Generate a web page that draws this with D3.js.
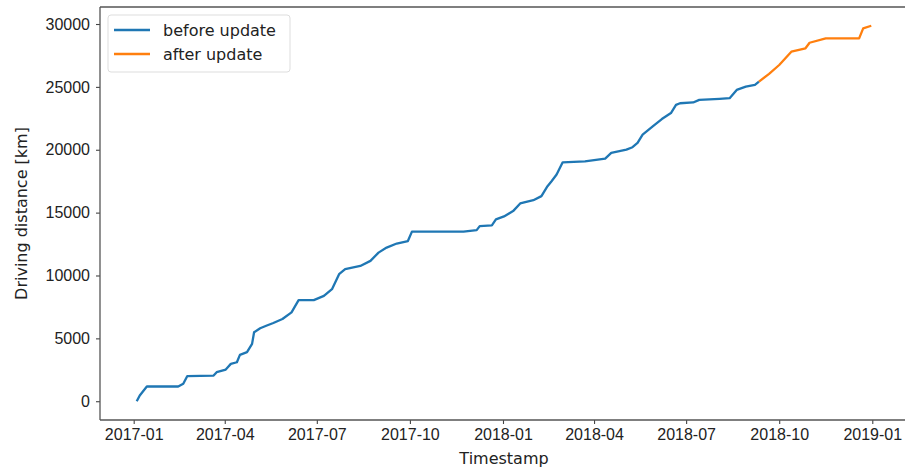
<!DOCTYPE html>
<html>
<head>
<meta charset="utf-8">
<script src="https://cdn.jsdelivr.net/npm/d3@7"></script>
<style>
  body { margin: 0; background: #fff; overflow: hidden; }
  svg { display: block; font-family: "DejaVu Sans", sans-serif; }
</style>
</head>
<body>
<script>
// cumulative driving distance
const beforeDates = ["2017-01-04","2017-01-07","2017-01-14","2017-02-14","2017-02-19","2017-02-23",
  "2017-03-21","2017-03-24","2017-04-02","2017-04-04","2017-04-07","2017-04-13","2017-04-16","2017-04-23",
  "2017-04-28","2017-04-30","2017-05-06","2017-05-12","2017-05-19","2017-05-28","2017-06-06","2017-06-13",
  "2017-06-28","2017-07-08","2017-07-16","2017-07-23","2017-07-29","2017-08-13","2017-08-23",
  "2017-08-31","2017-09-08","2017-09-18","2017-09-29","2017-10-03","2017-11-23","2017-12-06",
  "2017-12-09","2017-12-21","2017-12-25","2018-01-02","2018-01-11","2018-01-18","2018-01-31",
  "2018-02-08","2018-02-14","2018-02-18","2018-02-23","2018-03-01","2018-03-23","2018-04-12","2018-04-18",
  "2018-05-03","2018-05-09","2018-05-14","2018-05-19","2018-05-29","2018-06-07","2018-06-16","2018-06-21",
  "2018-06-25","2018-07-08","2018-07-14","2018-08-03","2018-08-13","2018-08-20","2018-08-29",
  "2018-09-07","2018-09-11"];
const beforeKm = [0,460,1170,1170,1390,2000,
  2040,2310,2520,2700,2970,3100,3685,3900,
  4560,5480,5800,6000,6220,6540,7070,8040,
  8040,8380,8910,10100,10500,10760,11160,
  11820,12220,12540,12740,13490,13490,13610,
  13930,13990,14460,14700,15120,15730,15990,
  16310,17100,17500,18030,19000,19080,19300,19750,
  20010,20200,20540,21200,21860,22440,22920,23570,
  23700,23760,23970,24050,24100,24760,25020,
  25160,25420];

const afterDates = ["2018-09-11","2018-09-21","2018-10-01","2018-10-13","2018-10-27","2018-10-31",
  "2018-11-16","2018-12-19","2018-12-23","2018-12-31"];
const afterKm = [25420,26030,26740,27800,28070,28510,28860,28860,29650,29860];

const yTicks = [0, 5000, 10000, 15000, 20000, 25000, 30000];
const legendLabels = ["before update", "after update"];
const colors = ["#1f77b4", "#ff7f0e"];

const width = 905, height = 467;
const margin = { top: 7, right: -3, bottom: 47, left: 100 };
const parse = d3.timeParse("%Y-%m-%d");

const before = beforeDates.map((d, i) => ({ date: parse(d), km: beforeKm[i] }));
const after = afterDates.map((d, i) => ({ date: parse(d), km: afterKm[i] }));
const all = before.concat(after);

// matplotlib-style 5% padding around the data
const xExt = d3.extent(all, d => d.date);
const xPad = (xExt[1] - xExt[0]) * 0.05;
const yExt = d3.extent(all, d => d.km);
const yPad = (yExt[1] - yExt[0]) * 0.05;

const x = d3.scaleTime()
  .domain([new Date(+xExt[0] - xPad), new Date(+xExt[1] + xPad)])
  .range([margin.left, width - margin.right]);
const y = d3.scaleLinear()
  .domain([yExt[0] - yPad, yExt[1] + yPad])
  .range([height - margin.bottom, margin.top]);

const svg = d3.select("body").append("svg")
  .attr("width", width)
  .attr("height", height);

const line = d3.line().x(d => x(d.date)).y(d => y(d.km));

svg.append("path").datum(before)
  .attr("d", line).attr("fill", "none")
  .attr("stroke", colors[0]).attr("stroke-width", 2.3)
  .attr("stroke-linejoin", "round");
svg.append("path").datum(after)
  .attr("d", line).attr("fill", "none")
  .attr("stroke", colors[1]).attr("stroke-width", 2.3)
  .attr("stroke-linejoin", "round");

// axes
const xAxis = svg.append("g")
  .attr("transform", `translate(0,${height - margin.bottom})`)
  .call(d3.axisBottom(x).ticks(d3.timeMonth.every(3)).tickFormat(d3.timeFormat("%Y-%m")).tickSize(4).tickPadding(5));
const yAxis = svg.append("g")
  .attr("transform", `translate(${margin.left},0)`)
  .call(d3.axisLeft(y).tickValues(yTicks).tickFormat(d3.format("d")).tickSize(4).tickPadding(6));

[xAxis, yAxis].forEach(g => {
  g.select(".domain").remove();
  g.selectAll(".tick line").attr("stroke", "#444").attr("stroke-width", 1.1);
  g.selectAll(".tick text").attr("fill", "#222").style("font-size", "16px");
});

// spines: left, top, bottom (the right one falls outside the crop)
const x0 = margin.left, x1 = width + 10;
const yTop = margin.top, yBot = height - margin.bottom;
[[x0, yTop, x0, yBot], [x0, yTop, x1, yTop], [x0, yBot, x1, yBot]].forEach(s => {
  svg.append("line")
    .attr("x1", s[0]).attr("y1", s[1]).attr("x2", s[2]).attr("y2", s[3])
    .attr("stroke", "#555").attr("stroke-width", 1.3);
});

svg.append("text")
  .attr("x", (margin.left + width - margin.right) / 2).attr("y", 464)
  .attr("text-anchor", "middle").attr("fill", "#222").style("font-size", "16px")
  .text("Timestamp");
svg.append("text")
  .attr("transform", `translate(27,${(margin.top + height - margin.bottom) / 2}) rotate(-90)`)
  .attr("text-anchor", "middle").attr("fill", "#222").style("font-size", "16px")
  .text("Driving distance [km]");

// legend
const lg = svg.append("g").attr("transform", "translate(108,15)");
lg.append("rect").attr("width", 182).attr("height", 57).attr("rx", 3)
  .attr("fill", "#fff").attr("stroke", "#ddd");
legendLabels.forEach((t, i) => {
  lg.append("line").attr("x1", 6).attr("x2", 42).attr("y1", 15 + i * 24).attr("y2", 15 + i * 24)
    .attr("stroke", colors[i]).attr("stroke-width", 2.3);
  lg.append("text").attr("x", 55).attr("y", 21 + i * 24)
    .attr("fill", "#222").style("font-size", "16px").text(t);
});
</script>
</body>
</html>
